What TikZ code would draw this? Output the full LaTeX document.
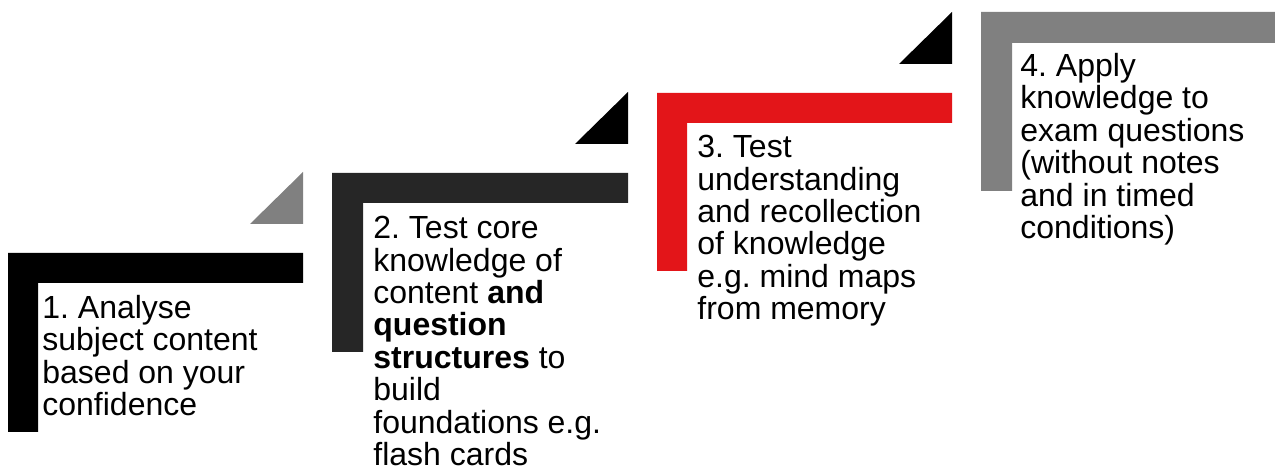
\documentclass[tikz,border=0pt]{standalone}
\usepackage{fontspec}
\setmainfont{Liberation Sans}
\usepackage{xcolor}
\usepackage{tikz}
\usetikzlibrary{positioning, calc}

\definecolor{stepblack}{HTML}{000000}
\definecolor{stepdark}{HTML}{262626}
\definecolor{stepred}{HTML}{E31519}
\definecolor{stepgrey}{HTML}{808080}

\tikzset{
  steptext/.style={anchor=north west, inner sep=0pt, align=left,
    font=\fontsize{16}{16.2}\selectfont\frenchspacing}
}

\begin{document}
\begin{tikzpicture}[x=0.5pt,y=-0.5pt]
      \useasboundingbox (0,0) rectangle (1275,475);

      % brackets
      \fill [stepblack] (8,253) -- (303,253) -- (303,283) -- (38,283) -- (38,432) -- (8,432) -- cycle;
      \fill [stepdark] (332,173) -- (628,173) -- (628,203) -- (363,203) -- (363,352) -- (332,352) -- cycle;
      \fill [stepred] (657,93) -- (952,93) -- (952,123) -- (687,123) -- (687,271) -- (657,271) -- cycle;
      \fill [stepgrey] (981,12) -- (1276,12) -- (1276,43) -- (1012,43) -- (1012,191) -- (981,191) -- cycle;

      % corners
      \fill [stepgrey] (250,224) -- (303,172) -- (303,224) -- cycle;
      \fill [stepblack] (575,144) -- (628,92) -- (628,144) -- cycle;
      \fill [stepblack] (899,64) -- (952,12) -- (952,64) -- cycle;

      \node [steptext] (step1) at (42,295) {1. Analyse\\subject content\\based on your\\confidence};
      \node [steptext] (step2) at (373,216) {2. Test core\\knowledge of\\content \textbf{and}\\\textbf{question}\\\textbf{structures} to\\build\\foundations e.g.\\flash cards};
      \node [steptext] (step3) at (697,135) {3. Test\\understanding\\and recollection\\of knowledge\\e.g. mind maps\\from memory};
      \node [steptext] (step4) at (1020,53) {4. Apply\\knowledge to\\exam questions\\(without notes\\and in timed\\conditions)};
    \end{tikzpicture}
\end{document}
